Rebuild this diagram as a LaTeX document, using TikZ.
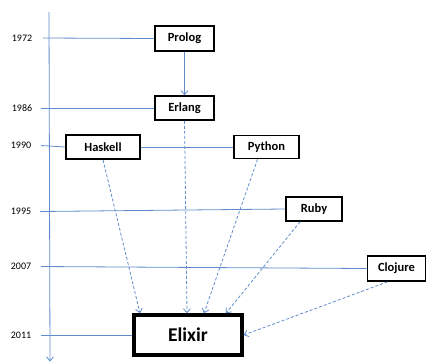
\documentclass[tikz,border=0pt]{standalone}
\usepackage{fontspec}
\setmainfont{Carlito}
\usetikzlibrary{arrows.meta}
\definecolor{lineblue}{RGB}{96,140,204}
\tikzset{
  lang/.style={draw=black, line width=1.7pt, fill=white, inner sep=0pt, font=\bfseries\fontsize{12.5}{14}\selectfont},
  bigbox/.style={draw=black, line width=3.5pt, fill=white, inner sep=0pt, font=\bfseries\fontsize{19.5}{22}\selectfont},
  yearlbl/.style={inner sep=0pt, font=\fontsize{10}{12}\selectfont},
  tl/.style={draw=lineblue, line width=0.8pt},
  dep/.style={draw=lineblue, line width=0.8pt, dash pattern=on 3pt off 2pt, -{Straight Barb[length=4pt,width=7pt]}},
}
\begin{document}
\begin{tikzpicture}[x=1pt,y=-1pt]
\useasboundingbox (0,0) rectangle (427,362);
% axis
\coordinate (axtop) at (49,12);
\coordinate (axbot) at (50,361.5);
\draw[tl, -{Straight Barb[length=4pt,width=7pt]}] (axtop) -- (axbot);
% year labels
\node[yearlbl] (y1972) at (22,38) {1972};
\node[yearlbl] (y1986) at (22,108) {1986};
\node[yearlbl] (y1990) at (21,145) {1990};
\node[yearlbl] (y1995) at (21,211.5) {1995};
\node[yearlbl] (y2007) at (21,266.5) {2007};
\node[yearlbl] (y2011) at (21,335) {2011};
% boxes
\node[lang, minimum width=59pt, minimum height=25pt] (prolog) at (184.5,38.5) {Prolog};
\node[lang, minimum width=59pt, minimum height=24pt] (erlang) at (184.5,108) {Erlang};
\node[lang, minimum width=74pt, minimum height=24pt] (haskell) at (103,147) {Haskell};
\node[lang, minimum width=65pt, minimum height=23pt] (python) at (266.5,147) {Python};
\node[lang, minimum width=56pt, minimum height=24pt] (ruby) at (314,209) {Ruby};
\node[lang, minimum width=58pt, minimum height=25pt] (clojure) at (396.5,268.5) {Clojure};
\node[bigbox, minimum width=108pt, minimum height=40pt] (elixir) at (188,335) {Elixir};
% timeline lines
\coordinate (t1972) at (43,38);
\coordinate (t1986) at (41,108);
\coordinate (t1990) at (41,145.5);
\coordinate (t1995) at (40,211.5);
\coordinate (t2007) at (41,266.5);
\coordinate (t2011) at (41,335);
\draw[tl] (t1972) -- (prolog.west);
\draw[tl] (t1986) -- (erlang.west);
\draw[tl] (t1990) -- (haskell.west);
\draw[tl] (haskell.east) -- (python.west);
\draw[tl] (t1995) -- (ruby.west);
\draw[tl] (t2007) -- (clojure.west);
\draw[tl] (t2011) -- (elixir.west);
% influence
\draw[tl, -{Straight Barb[length=4pt,width=7pt]}] (prolog.south) -- (erlang.north);
\draw[dep] (haskell.south) -- ([xshift=-48pt]elixir.north);
\draw[dep] (erlang.south) -- ([xshift=-1pt]elixir.north);
\draw[dep] ([xshift=-9pt]python.south) -- ([xshift=16pt]elixir.north);
\draw[dep] ([xshift=-14pt]ruby.south) -- ([xshift=38pt]elixir.north);
\draw[dep] ([xshift=-9pt]clojure.south) -- (elixir.east);
\end{tikzpicture}
\end{document}
